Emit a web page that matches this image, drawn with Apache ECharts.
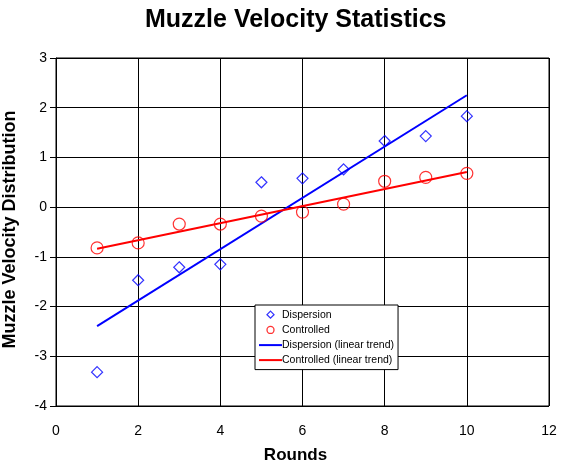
<!DOCTYPE html>
<html><head><meta charset="utf-8">
<script src="https://cdn.jsdelivr.net/npm/echarts@6/dist/echarts.min.js"></script>
<style>html,body{margin:0;padding:0;background:#fff}#c{width:571px;height:467px}</style>
</head><body><div id="c"></div>
<script>
var rounds = [1, 2, 3, 4, 5, 6, 7, 8, 9, 10];
var dispersion = [-3.32, -1.47, -1.21, -1.15, 0.50, 0.58, 0.76, 1.33, 1.43, 1.83];
var controlled = [-0.82, -0.72, -0.34, -0.34, -0.18, -0.10, 0.06, 0.52, 0.60, 0.68];
var xTicks = [0, 2, 4, 6, 8, 10, 12];
var yTicks = [-4, -3, -2, -1, 0, 1, 2, 3];

function pairs(xs, ys) { return xs.map(function (x, i) { return [x, ys[i]]; }); }
function trend(xs, ys) {
  var n = xs.length, mx = 0, my = 0;
  for (var i = 0; i < n; i++) { mx += xs[i]; my += ys[i]; }
  mx /= n; my /= n;
  var sxy = 0, sxx = 0;
  for (i = 0; i < n; i++) { sxy += (xs[i] - mx) * (ys[i] - my); sxx += (xs[i] - mx) * (xs[i] - mx); }
  var b = sxy / sxx, a = my - b * mx;
  var x0 = xs[0], x1 = xs[n - 1];
  return [[x0, a + b * x0], [x1, a + b * x1]];
}

var chart = echarts.init(document.getElementById('c'), null, { renderer: 'canvas' });
var font = 'Liberation Sans, Arial, sans-serif';
var hidden = { color: 'rgba(0,0,0,0)', borderColor: 'rgba(0,0,0,0)', borderWidth: 0, opacity: 0 };
var diamondIcon = 'path://M0,0 M23,10 M11.5,1.5 L15,5 L11.5,8.5 L8,5 Z';
var circleIcon = 'path://M0,0 M23,10 M8,5 A3.5,3.5 0 1 1 15,5 A3.5,3.5 0 1 1 8,5 Z';
chart.setOption({
  animation: false,
  backgroundColor: '#fff',
  title: { text: 'Muzzle Velocity Statistics', left: 140, top: 3,
    textStyle: { fontFamily: font, fontSize: 25, fontWeight: 'bold', color: '#000' } },
  grid: { left: 56, right: 22, top: 58, bottom: 61, show: true, borderColor: '#000', borderWidth: 1,
    outerBoundsMode: 'none', containLabel: false },
  xAxis: { type: 'value', min: xTicks[0], max: xTicks[xTicks.length - 1], interval: 2,
    name: 'Rounds', nameLocation: 'middle', nameGap: 41,
    nameTextStyle: { fontFamily: font, fontSize: 17, fontWeight: 'bold', color: '#000', padding: [0, 14, 0, 0] },
    axisLine: { lineStyle: { color: '#000' } },
    axisTick: { show: true, length: 5, lineStyle: { color: '#000' } },
    axisLabel: { fontFamily: font, fontSize: 14, color: '#000', margin: 18 },
    splitLine: { show: true, lineStyle: { color: '#000', width: 1 } } },
  yAxis: { type: 'value', min: yTicks[0], max: yTicks[yTicks.length - 1], interval: 1,
    name: 'Muzzle Velocity Distribution', nameLocation: 'middle', nameGap: 37, nameRotate: 90,
    nameTextStyle: { fontFamily: font, fontSize: 18, fontWeight: 'bold', color: '#000', padding: [0, 0, 0, 5] },
    axisLine: { show: true, lineStyle: { color: '#000' } },
    axisTick: { show: true, length: 6, lineStyle: { color: '#000' } },
    axisLabel: { fontFamily: font, fontSize: 14, color: '#000', margin: 9 },
    splitLine: { show: true, lineStyle: { color: '#000', width: 1 } } },
  legend: { orient: 'vertical', left: 255, top: 305,
    backgroundColor: '#fff', borderColor: '#000', borderWidth: 1, padding: [4, 4, 4, 3],
    itemGap: 4, itemWidth: 23, itemHeight: 10, symbolKeepAspect: true,
    textStyle: { fontFamily: font, fontSize: 10.5, color: '#000', lineHeight: 10, padding: [0, 0, 0, -5] },
    data: [
      { name: 'Dispersion', icon: diamondIcon, itemStyle: { color: '#fff', borderColor: '#0000ff', borderWidth: 1.3 } },
      { name: 'Controlled', icon: circleIcon, itemStyle: { color: '#fff', borderColor: '#ff0000', borderWidth: 1.3 } },
      { name: 'Dispersion (linear trend)', itemStyle: hidden, lineStyle: { color: '#0000ff', width: 2 } },
      { name: 'Controlled (linear trend)', itemStyle: hidden, lineStyle: { color: '#ff0000', width: 2 } }
    ] },
  series: [
    { name: 'Dispersion', type: 'scatter', data: pairs(rounds, dispersion), symbol: 'diamond', symbolSize: 11,
      itemStyle: { color: 'rgba(0,0,0,0)', borderColor: '#0000ff', borderWidth: 1.2 }, z: 3 },
    { name: 'Controlled', type: 'scatter', data: pairs(rounds, controlled), symbol: 'circle', symbolSize: 12,
      itemStyle: { color: 'rgba(0,0,0,0)', borderColor: '#ff0000', borderWidth: 1.2 }, z: 3 },
    { name: 'Dispersion (linear trend)', type: 'line', data: trend(rounds, dispersion), showSymbol: false, symbol: 'none',
      lineStyle: { color: '#0000ff', width: 2 }, itemStyle: { color: '#0000ff' }, z: 2 },
    { name: 'Controlled (linear trend)', type: 'line', data: trend(rounds, controlled), showSymbol: false, symbol: 'none',
      lineStyle: { color: '#ff0000', width: 2 }, itemStyle: { color: '#ff0000' }, z: 2 }
  ]
});
</script></body></html>
